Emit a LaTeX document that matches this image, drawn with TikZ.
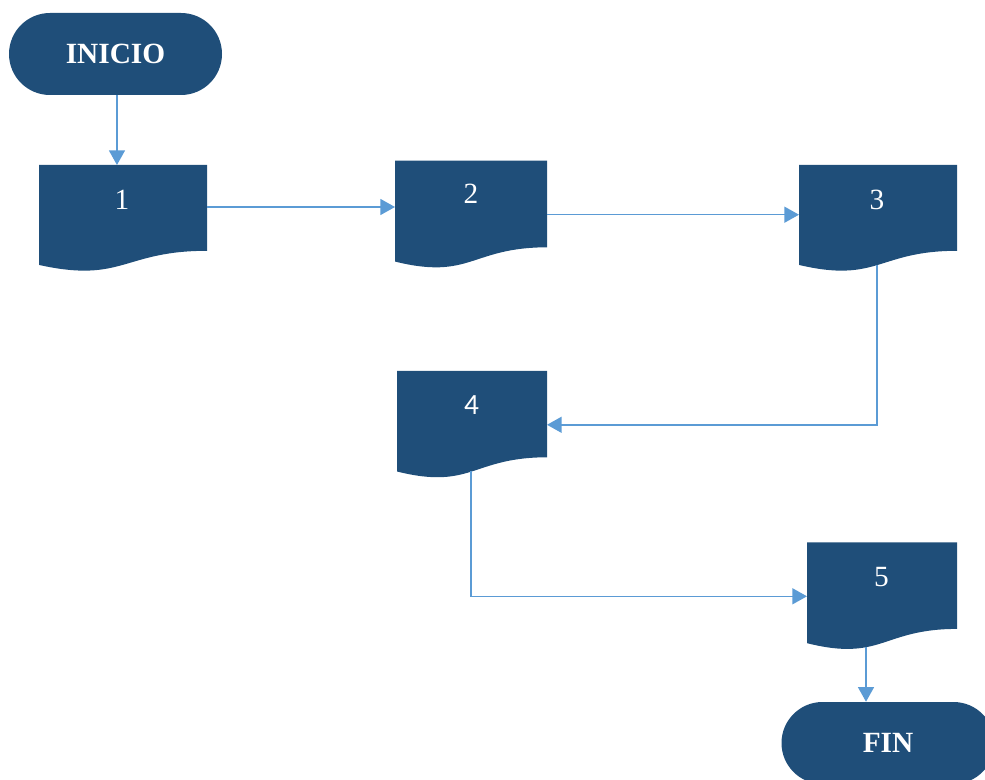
\documentclass[tikz,border=0pt]{standalone}
\usepackage{fontspec}
\setmainfont{Liberation Serif}
\newfontfamily\numsans{Carlito}
\usetikzlibrary{arrows.meta,calc,shapes.misc,backgrounds}
\definecolor{docblue}{HTML}{1F4E79}
\definecolor{linkblue}{HTML}{5B9BD5}

\tikzset{
  terminal/.style={rounded rectangle, fill=docblue, text=white,
    font=\bfseries\fontsize{22}{26}\selectfont,
    minimum width=213*0.75pt, minimum height=82*0.75pt, inner sep=0pt},
  docbox/.style={rectangle, inner sep=0pt, outer sep=0pt},
  doctext/.style={text=white, font=\fontsize{22}{26}\selectfont, inner sep=0pt},
  flow/.style={draw=linkblue, line width=1.1pt, -{Triangle[length=11pt,width=12pt]}},
}

% document sheet with a wavy lower edge, drawn over the box of a node
\newcommand\docsheet[1]{%
  \fill[docblue] (#1.north west) -- (#1.north east)
    -- ($(#1.north east)!0.802!(#1.south east)$)
    .. controls ($(#1.north)!0.802!(#1.south)$) and ($(#1.north)!1.1075!(#1.south)$)
    .. ($(#1.north west)!0.934!(#1.south west)$) -- cycle;}

\begin{document}
\begin{tikzpicture}[x=0.75pt,y=-0.75pt]
  \useasboundingbox (0,0) rectangle (985,780);
  \clip (0,0) rectangle (985,780);

  % terminals
  \node[terminal] (ini) at (115.5,54) {INICIO};
  \node[terminal] (fin) at (888,743) {FIN};

  % document boxes
  \node[docbox, minimum width=168*0.75pt, minimum height=107*0.75pt] (d1) at (123,218.5) {};
  \node[docbox, minimum width=152*0.75pt, minimum height=108*0.75pt] (d2) at (471,214.7) {};
  \node[docbox, minimum width=158*0.75pt, minimum height=107*0.75pt] (d3) at (878,218.5) {};
  \node[docbox, minimum width=150*0.75pt, minimum height=107.6*0.75pt] (d4) at (472,424.8) {};
  \node[docbox, minimum width=150*0.75pt, minimum height=108*0.75pt] (d5) at (882,596.3) {};

  \begin{scope}[on background layer]
    \docsheet{d1}
    \docsheet{d2}
    \docsheet{d3}
    \docsheet{d4}
    \docsheet{d5}
  \end{scope}

  % labels of the documents
  \node[doctext] (t1) at (122,200) {1};
  \node[doctext] (t2) at (471,194) {2};
  \node[doctext] (t3) at (877,200) {3};
  \node[doctext, font=\numsans\fontsize{22}{26}\selectfont] (t4) at (471.5,405) {4};
  \node[doctext] (t5) at (881.5,577.5) {5};

  % connectors
  \coordinate (a12) at ($(d1.east)+(0,-11.5)$);
  \coordinate (s3) at ($(d3.north)!0.934!(d3.south)+(-1,0)$);
  \coordinate (s4) at ($(d4.north)!0.934!(d4.south)+(-1,0)$);
  \coordinate (s5) at ($(d5.north)!0.972!(d5.south)+(-16,0)$);

  \draw[flow] ([xshift=1.1pt]ini.south) -- ([xshift=1.1pt]ini.south |- d1.north);
  \draw[flow] (a12) -- (a12 -| d2.west);
  \draw[flow] (d2.east) -- (d2.east -| d3.west);
  \draw[flow] (s3) |- (d4.east);
  \draw[flow] (s4) |- (d5.west);
  \draw[flow] (s5) -- (s5 |- fin.north);
\end{tikzpicture}
\end{document}
